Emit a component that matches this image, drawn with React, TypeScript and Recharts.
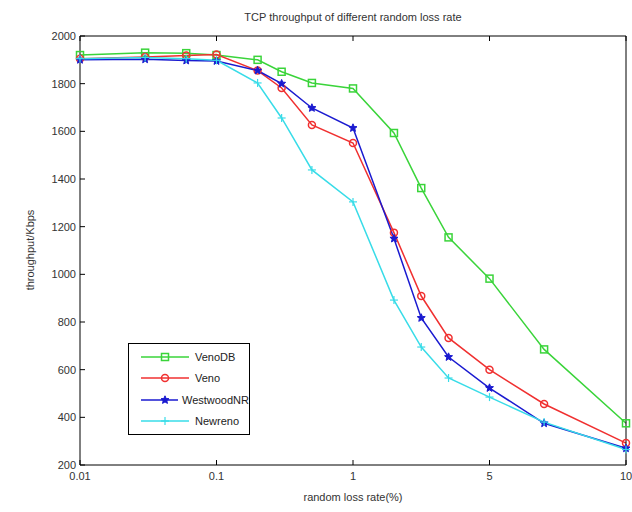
import React from "react"
import { LineChart, Line, XAxis, YAxis, Legend, Label } from "recharts"

// loss rates (%) at which each protocol was measured
const lossRates = [0.01, 0.03, 0.06, 0.1, 0.2, 0.3, 0.5, 1, 2.2, 3, 3.8, 5, 7, 10]

// throughput in Kbps
const venoDB = [1920, 1930, 1928, 1920, 1900, 1850, 1803, 1780, 1593, 1362, 1155, 982, 685, 375]
const veno = [1905, 1912, 1918, 1922, 1855, 1782, 1627, 1551, 1175, 909, 733, 600, 456, 292]
const westwoodNR = [1900, 1902, 1897, 1895, 1855, 1800, 1698, 1614, 1150, 817, 653, 523, 375, 270]
const newreno = [1905, 1910, 1905, 1898, 1803, 1656, 1438, 1304, 892, 695, 565, 485, 380, 265]

const xTickLabels = ["0.01", "0.1", "1", "5", "10"]
const xTickValues = [0.01, 0.1, 1, 5, 10]
const yTicks = [200, 400, 600, 800, 1000, 1200, 1400, 1600, 1800, 2000]

const FONT = "'Liberation Sans', Arial, Helvetica, sans-serif"

// the x axis is log between 0.01 and 1, then linear 1..5 and 5..10, one unit per tick
const axisPos = (v: number) => {
  if (v <= 1) return Math.log10(v) + 2
  if (v <= 5) return 2 + (v - 1) / 4
  return 3 + (v - 5) / 5
}
const xTicks = xTickValues.map(axisPos)

const series = [
  { key: "venoDB", name: "VenoDB", color: "#3ad43a", marker: "square" },
  { key: "veno", name: "Veno", color: "#f03030", marker: "circle" },
  { key: "westwoodNR", name: "WestwoodNR", color: "#1a1ad0", marker: "star" },
  { key: "newreno", name: "Newreno", color: "#38dce8", marker: "plus" },
]

const data = lossRates.map((rate, i) => ({
  pos: axisPos(rate),
  rate,
  venoDB: venoDB[i],
  veno: veno[i],
  westwoodNR: westwoodNR[i],
  newreno: newreno[i],
}))

function Marker({ type, cx, cy, color }: { type: string; cx: number; cy: number; color: string }) {
  if (type === "square") {
    return <rect x={cx - 3.5} y={cy - 3.5} width={7} height={7} fill="none" stroke={color} strokeWidth={1.5} />
  }
  if (type === "circle") {
    return <circle cx={cx} cy={cy} r={3.5} fill="none" stroke={color} strokeWidth={1.5} />
  }
  if (type === "star") {
    const pts: string[] = []
    for (let k = 0; k < 10; k++) {
      const r = k % 2 === 0 ? 4.2 : 1.9
      const a = -Math.PI / 2 + (k * Math.PI) / 5
      pts.push(`${cx + r * Math.cos(a)},${cy + r * Math.sin(a)}`)
    }
    return <polygon points={pts.join(" ")} fill={color} stroke={color} strokeWidth={1} />
  }
  return (
    <g stroke={color} strokeWidth={1.2}>
      <line x1={cx - 4} x2={cx + 4} y1={cy} y2={cy} />
      <line x1={cx} x2={cx} y1={cy - 4} y2={cy + 4} />
    </g>
  )
}

const BottomTick = (props: any) => {
  const { x, y, payload } = props
  const idx = xTicks.findIndex((t) => Math.abs(t - payload.value) < 1e-9)
  return (
    <g>
      <line x1={x} x2={x} y1={y} y2={y - 5} stroke="#000" />
      <text x={x} y={y + 15} textAnchor="middle" fontSize={11} fontFamily={FONT} fill="#333">
        {xTickLabels[idx]}
      </text>
    </g>
  )
}

const TopTick = (props: any) => {
  const { x, y } = props
  return <line x1={x} x2={x} y1={y} y2={y + 5} stroke="#000" />
}

const LeftTick = (props: any) => {
  const { x, y, payload } = props
  return (
    <g>
      <line x1={x} x2={x + 5} y1={y} y2={y} stroke="#000" />
      <text x={x - 4} y={y} dy="0.35em" textAnchor="end" fontSize={11} fontFamily={FONT} fill="#333">
        {payload.value}
      </text>
    </g>
  )
}

const RightTick = (props: any) => {
  const { x, y } = props
  return <line x1={x} x2={x - 5} y1={y} y2={y} stroke="#000" />
}

const renderLegend = () => (
  <div
    style={{
      border: "1px solid #000",
      background: "#fff",
      width: 120,
      padding: "2px 0",
      fontFamily: FONT,
      fontSize: 11,
      color: "#222",
    }}
  >
    {series.map((s) => (
      <div key={s.key} style={{ display: "flex", alignItems: "center", height: 21.5 }}>
        <svg width={62} height={14} style={{ display: "block" }}>
          <line x1={12} x2={60} y1={7} y2={7} stroke={s.color} strokeWidth={1.5} />
          <Marker type={s.marker} cx={36} cy={7} color={s.color} />
        </svg>
        <span style={{ marginLeft: 4 }}>{s.name}</span>
      </div>
    ))}
  </div>
)

export default function App() {
  return (
    <div style={{ position: "absolute", left: 0, top: 0, width: 632, height: 512, background: "#fff" }}>
      <div
        style={{
          position: "absolute",
          left: 80,
          width: 546,
          top: 11,
          textAlign: "center",
          fontFamily: FONT,
          fontSize: 11,
          color: "#333",
        }}
      >
        TCP throughput of different random loss rate
      </div>
      <LineChart width={632} height={512} data={data} margin={{ top: 0, right: 0, bottom: 0, left: 0 }}>
        <XAxis
          xAxisId="b"
          type="number"
          dataKey="pos"
          domain={[0, 4]}
          ticks={xTicks}
          interval={0}
          height={47}
          tickSize={0}
          tickMargin={0}
          tick={<BottomTick />}
          stroke="#000"
        >
          <Label
            content={() => (
              <text x={353} y={501} textAnchor="middle" fontSize={11} fontFamily={FONT} fill="#333">
                random loss rate(%)
              </text>
            )}
          />
        </XAxis>
        <XAxis
          xAxisId="t"
          orientation="top"
          type="number"
          dataKey="pos"
          domain={[0, 4]}
          ticks={xTicks}
          interval={0}
          height={36}
          tickSize={0}
          tickMargin={0}
          tick={<TopTick />}
          stroke="#000"
        />
        <YAxis
          yAxisId="l"
          type="number"
          domain={[200, 2000]}
          ticks={yTicks}
          interval={0}
          width={80}
          tickSize={0}
          tickMargin={0}
          tick={<LeftTick />}
          stroke="#000"
        >
          <Label
            content={() => (
              <text
                x={34}
                y={250}
                transform="rotate(-90 34 250)"
                textAnchor="middle"
                fontSize={11}
                fontFamily={FONT}
                fill="#333"
              >
                throughput/Kbps
              </text>
            )}
          />
        </YAxis>
        <YAxis
          yAxisId="r"
          orientation="right"
          type="number"
          domain={[200, 2000]}
          ticks={yTicks}
          interval={0}
          width={6}
          tickSize={0}
          tickMargin={0}
          tick={<RightTick />}
          stroke="#000"
        />
        {series.map((s) => (
          <Line
            key={s.key}
            xAxisId="b"
            yAxisId="l"
            type="linear"
            dataKey={s.key}
            name={s.name}
            stroke={s.color}
            strokeWidth={1.5}
            isAnimationActive={false}
            dot={(p: any) => <Marker key={`${s.key}-${p.index}`} type={s.marker} cx={p.cx} cy={p.cy} color={s.color} />}
          />
        ))}
        <Legend
          layout="vertical"
          align="center"
          verticalAlign="middle"
          content={renderLegend}
          wrapperStyle={{ left: 128, top: 343, width: "auto", height: "auto" }}
        />
      </LineChart>
    </div>
  )
}
